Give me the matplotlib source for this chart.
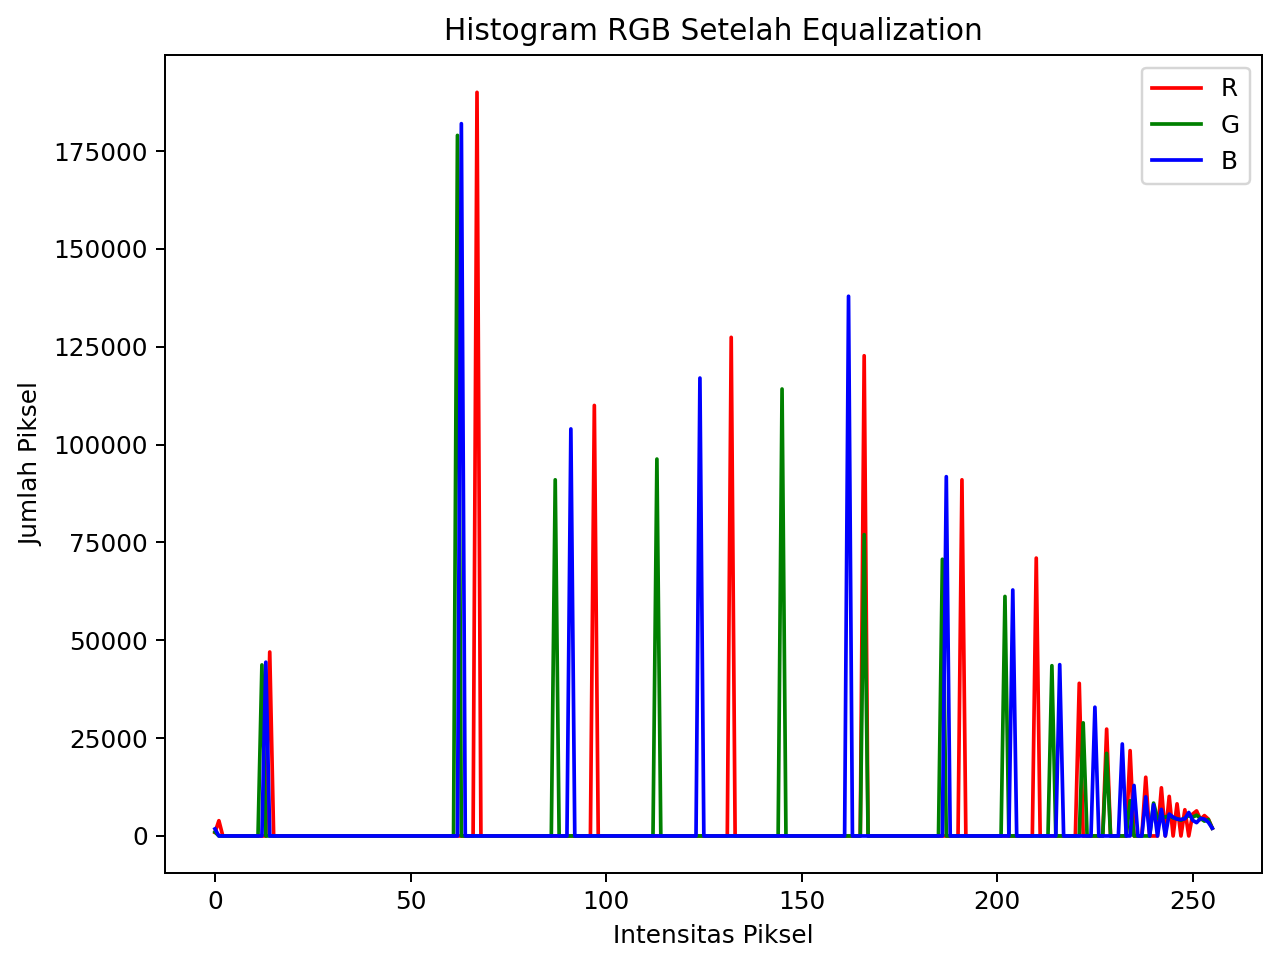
import numpy as np
import matplotlib
matplotlib.use("Agg")
import matplotlib.pyplot as plt

# histogram values (all other bins are 0)
r_idx = [0, 1, 14, 67, 97, 132, 166, 191, 210, 221, 228, 234, 238, 242, 244, 246, 248,
         250, 251, 252, 253, 254, 255]
r_val = [900, 3900, 47000, 190000, 110000, 127400, 122700, 91000, 71000, 39000, 27300,
         21800, 15000, 12300, 10100, 8200, 6700, 5600, 6400, 4200, 5200, 4300, 2000]

g_idx = [0, 12, 62, 87, 113, 145, 166, 186, 202, 214, 222, 228, 234, 240,
         241, 242, 243, 244, 245, 246, 247, 248, 249, 250, 251, 252, 253, 254, 255]
g_val = [1000, 43700, 179000, 91000, 96300, 114200, 77000, 70700, 61200, 43500, 28900,
         21100, 9000, 8400, 4500, 5000, 4800, 5200, 4600, 4400, 4000, 4600, 5200, 4800,
         5300, 4500, 3800, 4200, 2000]

b_idx = [0, 13, 63, 91, 124, 162, 187, 204, 216, 225, 232, 235, 238, 240, 242, 244,
         245, 246, 247, 248, 249, 250, 251, 252, 253, 254, 255]
b_val = [1800, 44400, 182000, 104000, 117000, 137900, 91800, 62850, 43770, 32900, 23500,
         12900, 10000, 8000, 6800, 5600, 4800, 4300, 4200, 4400, 6000, 4000, 3400, 4500,
         4300, 3500, 2000]

levels = np.arange(256)


def build(idx, val):
    h = np.zeros(256)
    h[idx] = val
    return h


hist_r = build(r_idx, r_val)
hist_g = build(g_idx, g_val)
hist_b = build(b_idx, b_val)

fig = plt.figure(figsize=(7.2, 5.445), dpi=177.78)
plt.plot(levels, hist_r, color='red', label='R')
plt.plot(levels, hist_g, color='green', label='G')
plt.plot(levels, hist_b, color='blue', label='B')
plt.title('Histogram RGB Setelah Equalization')
plt.xlabel('Intensitas Piksel')
plt.ylabel('Jumlah Piksel')
plt.legend()
plt.subplots_adjust(left=0.129, right=0.986, top=0.943, bottom=0.098)
plt.savefig('out.png', dpi=177.78)
